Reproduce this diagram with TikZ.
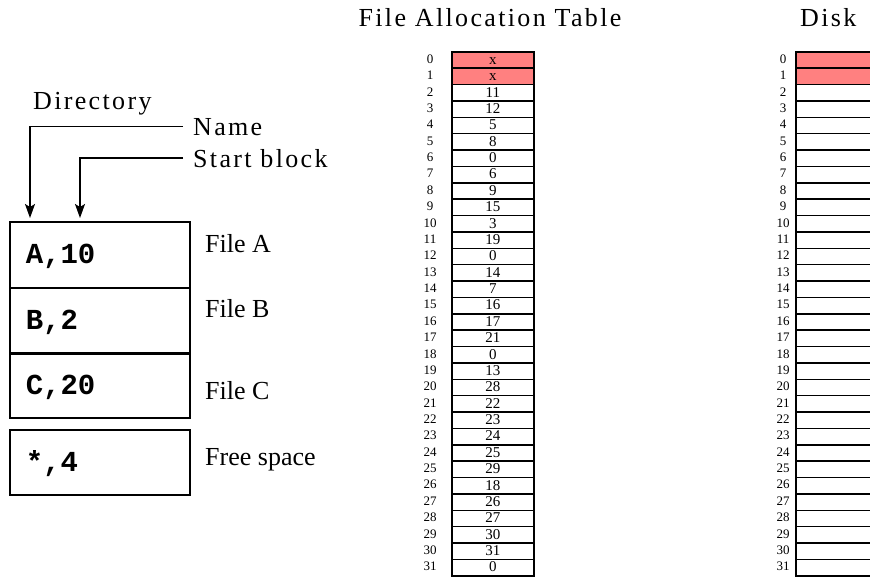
\documentclass[tikz,border=0pt]{standalone}
\usepackage{fontspec}
\setmainfont{Liberation Serif}
\newfontfamily\dirmono{Liberation Mono}
\usetikzlibrary{arrows.meta}
\definecolor{cellred}{RGB}{255,128,128}
\begin{document}
\begin{tikzpicture}[x=1pt,y=-1pt,
  bigtext/.style={font=\fontsize{26}{30}\selectfont, inner sep=0pt, anchor=base west},
  titletext/.style={font=\fontsize{26}{30}\selectfont\addfontfeatures{LetterSpace=9}, inner sep=0pt},
  dirbox/.style={draw, line width=1.5pt, anchor=north west, minimum width=180pt, minimum height=66pt,
    inner xsep=16pt, inner ysep=0pt, text width=148pt, align=left, text height=18pt, text depth=0pt,
    font=\fontsize{29}{30}\dirmono\bfseries},
  pointer/.style={line width=1.5pt, -{Stealth[length=14pt,width=10pt,inset=3pt]}},
  fatcell/.style={draw, line width=1.6pt, anchor=north west, minimum width=82pt, minimum height=16.375pt,
    inner sep=0pt, text height=12.5pt, text depth=3.875pt, font=\fontsize{15}{15}\selectfont},
  diskcell/.style={draw, line width=1.6pt, anchor=north west, minimum width=90pt, minimum height=16.375pt,
    inner sep=0pt},
  rowlabel/.style={inner sep=0pt, font=\fontsize{13}{13}\selectfont}
]
\useasboundingbox (0,0) rectangle (870,578);
\clip (0,0) rectangle (870,578);

% Directory
\node[titletext, anchor=base west] (dirtitle) at (33,110) {Directory};
\node[titletext, anchor=base west] (nm) at (193,135) {Name};
\node[titletext, anchor=base west] (sb) at (193,167) {Start block};

\node[dirbox] (dA) at (9,221) {A,10};
\node[dirbox] (dB) at (9,287) {B,2};
\node[dirbox, minimum height=65pt] (dC) at (9,352) {C,20};
\node[dirbox, minimum height=65pt] (dF) at (9,429) {*,4};

\coordinate (nmTip) at (30,218);
\coordinate (sbTip) at (80,218);
\draw[pointer, shorten <=10pt] (nm.west) -| (nmTip);
\draw[pointer, shorten <=10pt] (sb.west) -| (sbTip);

\node[bigtext] (fA) at (205,252) {File A};
\node[bigtext] (fB) at (205,317) {File B};
\node[bigtext] (fC) at (205,399) {File C};
\node[bigtext] (fF) at (205,465) {Free space};

% File Allocation Table
\node[titletext, anchor=base] (fattitle) at (490,27) {File Allocation Table};
\foreach \v [count=\i from 0] in {x,x,11,12,5,8,0,6,9,15,3,19,0,14,7,16,17,21,0,13,28,22,23,24,25,29,18,26,27,30,31,0}{
  \pgfmathsetmacro{\ytop}{51+16.375*\i}
  \ifnum\i<2
    \node[fatcell, fill=cellred] (fat\i) at (451,\ytop) {\v};
  \else
    \node[fatcell] (fat\i) at (451,\ytop) {\v};
  \fi
  \node[rowlabel] (fatl\i) at (430,\ytop+8) {\i};
}

% Disk
\node[titletext, anchor=base west] (disktitle) at (800,27) {Disk};
\foreach \i in {0,...,31}{
  \pgfmathsetmacro{\ytop}{51+16.375*\i}
  \ifnum\i<2
    \node[diskcell, fill=cellred] (disk\i) at (795,\ytop) {};
  \else
    \node[diskcell] (disk\i) at (795,\ytop) {};
  \fi
  \node[rowlabel] (diskl\i) at (783,\ytop+8) {\i};
}
\end{tikzpicture}
\end{document}
